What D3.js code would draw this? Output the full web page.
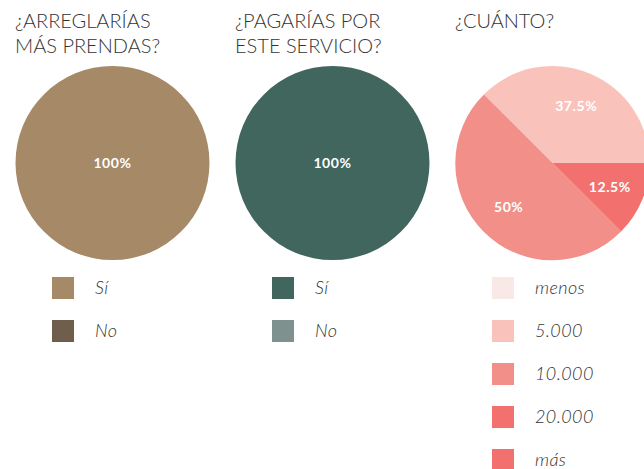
<!DOCTYPE html>
<html>
<head>
<meta charset="utf-8">
<script src="https://cdn.jsdelivr.net/npm/d3@7"></script>
<style>
  html, body { margin: 0; padding: 0; background: #fff; overflow: hidden; }
  svg { display: block; }
</style>
</head>
<body>
<svg id="chart" width="644" height="469"></svg>
<script>
// Survey answers, one pie per question
const titles = [
  ["¿ARREGLARÍAS", "MÁS PRENDAS?"],
  ["¿PAGARÍAS POR", "ESTE SERVICIO?"],
  ["¿CUÁNTO?"]
];

const repairCategories = ["Sí", "No"];
const repairValues = [100, 0];
const repairColors = ["#a68966", "#705e4d"];

const payCategories = ["Sí", "No"];
const payValues = [100, 0];
const payColors = ["#41665e", "#7e918e"];

const amountCategories = ["menos", "5.000", "10.000", "20.000", "más"];
const amountValues = [0, 37.5, 50, 12.5, 0];
const amountColors = ["#f9e9e6", "#f9c3bb", "#f28f88", "#f2716e", "#f2716e"];

const groups = [
  { title: titles[0], cats: repairCategories, vals: repairValues, colors: repairColors },
  { title: titles[1], cats: payCategories, vals: payValues, colors: payColors },
  { title: titles[2], cats: amountCategories, vals: amountValues, colors: amountColors }
];

const svg = d3.select("#chart");
const font = "Lato, 'Open Sans', sans-serif";

const panelX = d3.scalePoint().domain([0, 1, 2]).range([0, 440]);
const radius = 97;
const cx = 112.5, cy = 163;

// Slices run counter-clockwise from three o'clock
const pie = d3.pie()
  .sort(null)
  .value(d => d.value)
  .startAngle(Math.PI / 2)
  .endAngle(Math.PI / 2 - 2 * Math.PI);

const arc = d3.arc().innerRadius(0).outerRadius(radius);
const labelArc = d3.arc().innerRadius(62).outerRadius(62);

groups.forEach((g, i) => {
  const panel = svg.append("g").attr("transform", `translate(${panelX(i)},0)`);

  // Question title
  const t = panel.append("text")
    .attr("x", 15)
    .attr("y", 28)
    .attr("font-family", font)
    .attr("font-weight", 300)
    .attr("font-size", 20)
    .attr("fill", "#333");
  g.title.forEach((line, j) => {
    t.append("tspan").attr("x", 15).attr("dy", j === 0 ? 0 : 24.5).text(line);
  });

  const data = g.cats.map((c, k) => ({ cat: c, value: g.vals[k], color: g.colors[k] }));
  const arcs = pie(data).filter(a => a.data.value > 0);

  const pg = panel.append("g").attr("transform", `translate(${cx},${cy})`);
  pg.selectAll("path")
    .data(arcs)
    .join("path")
    .attr("d", arc)
    .attr("fill", d => d.data.color);

  const total = d3.sum(g.vals);
  pg.selectAll("text")
    .data(arcs)
    .join("text")
    .attr("transform", d => {
      const full = d.data.value === total;
      return full ? "translate(0,0)" : `translate(${labelArc.centroid(d)})`;
    })
    .attr("text-anchor", "middle")
    .attr("dy", "0.35em")
    .attr("font-family", font)
    .attr("font-weight", 700)
    .attr("font-size", 14)
    .attr("letter-spacing", 0.6)
    .attr("fill", "#fff")
    .text(d => d3.format(".3~r")(d.data.value / total * 100) + "%");

  // Legend
  const legendY = d3.scalePoint().domain(d3.range(g.cats.length)).range([277, 277 + 43 * (g.cats.length - 1)]);
  const lg = panel.selectAll("g.legend")
    .data(data)
    .join("g")
    .attr("class", "legend")
    .attr("transform", (d, k) => `translate(52,${legendY(k)})`);
  lg.append("rect")
    .attr("width", 22)
    .attr("height", 22)
    .attr("fill", d => d.color);
  lg.append("text")
    .attr("x", 43)
    .attr("y", 11)
    .attr("dy", "0.35em")
    .attr("font-family", font)
    .attr("font-style", "italic")
    .attr("font-weight", 300)
    .attr("font-size", 18)
    .attr("letter-spacing", 0.4)
    .attr("fill", "#333")
    .text(d => d.cat);
});
</script>
</body>
</html>
